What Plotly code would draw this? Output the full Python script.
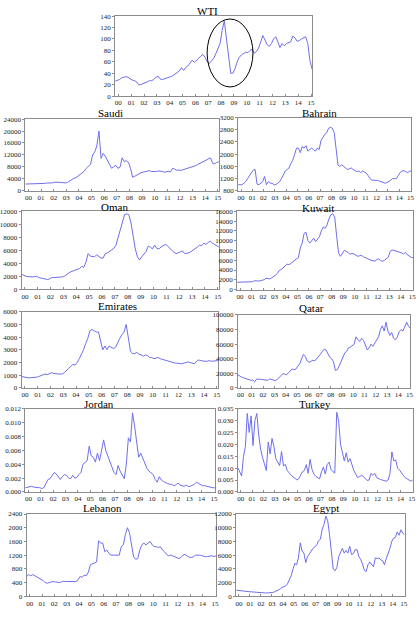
import plotly.graph_objects as go

# ---------------- data (~2-month steps) ----------------
t = [1999.75 + i / 6 for i in range(93)]
year_ticks = list(range(2000, 2016))
year_labels = [f"{y % 100:02d}" for y in year_ticks]

wti = [26, 27,
       29, 32, 33, 34, 33, 30,
       28, 27, 25, 20, 20, 22,
       23, 25, 27, 27, 29, 33,
       35, 30, 29, 30, 31, 32,
       34, 36, 39, 41, 44, 50,
       45, 50, 53, 58, 63, 59,
       62, 66, 70, 73, 68, 60,
       57, 61, 66, 74, 85, 92,
       115, 132, 100, 65, 40, 40,
       48, 60, 68, 72, 75, 77,
       76, 80, 82, 75, 78, 84,
       95, 106, 98, 90, 87, 92,
       100, 104, 95, 85, 92, 88,
       92, 93, 95, 105, 102, 96,
       97, 100, 102, 104, 92, 62,
       47]

saudi = [2200, 2200,
         2200, 2300, 2300, 2300, 2400, 2400,
         2400, 2400, 2500, 2500, 2600, 2600,
         2800, 2900, 2800, 2700, 2600, 2600,
         2700, 3200, 3900, 4100, 4300, 4800,
         5200, 6000, 6500, 7500, 8200, 8800,
         12000, 13000, 15000, 20000, 10800, 12500,
         11500, 10000, 8500, 7500, 8000, 8500,
         7500, 7800, 11000, 9800, 10000, 9500,
         7500, 4500, 4800, 5200, 5800, 6000,
         6200, 6300, 6500, 6700, 6400, 6300,
         6400, 6500, 6600, 6400, 6200, 6300,
         6500, 6300, 7500, 7200, 6800, 6900,
         6800, 7000, 7200, 7400, 7600, 8000,
         8200, 8400, 8800, 9200, 9600, 10000,
         10200, 10600, 11000, 9200, 9000, 9500,
         9700]

bahrain = [1000, 1000,
           1000, 1050, 1100, 1200, 1300, 1400,
           1480, 1500, 1020, 1000, 1050, 1100,
           1270, 1000, 1100, 1050, 1050, 1000,
           1000, 1050, 1100, 1200, 1350, 1450,
           1500, 1550, 1700, 1800, 2000, 2200,
           2200, 2050, 2250, 2200, 2280, 2100,
           2150, 2200, 2150, 2100, 2200, 2150,
           2450, 2550, 2650, 2700, 2850, 2880,
           2850, 2700, 2100, 1650, 1600, 1650,
           1600, 1550, 1500, 1520, 1550, 1500,
           1450, 1430, 1450, 1400, 1450, 1420,
           1380, 1300, 1200, 1150, 1150, 1150,
           1140, 1120, 1100, 1080, 1050, 1070,
           1100, 1150, 1200, 1200, 1200, 1300,
           1400, 1450, 1460, 1430, 1400, 1440,
           1450]

oman = [2300, 2100,
        2000, 1950, 1900, 1900, 1950, 2000,
        1800, 1700, 1650, 1600, 1500, 1600,
        1800, 1800, 1800, 1800, 1850, 1900,
        2000, 2300, 2500, 2700, 2800, 2900,
        3000, 3200, 3500, 3400, 4200, 5500,
        5100, 5000, 5000, 5300, 5100, 4800,
        4800, 5500, 5600, 5800, 6000, 6300,
        6800, 8000, 9000, 10500, 11500, 11600,
        11500, 10200, 8000, 6200, 5000, 4500,
        5000, 5400, 5800, 6600, 6500, 6200,
        6800, 6300, 6200, 6500, 6700, 6900,
        6700, 6300, 6000, 5700, 5500, 5600,
        5800, 5900, 5500, 5500, 5600, 5800,
        6000, 6300, 6500, 6800, 6700, 7100,
        6900, 7200, 7400, 7100, 6900, 6800,
        6500]

kuwait = [1500, 1500,
          1500, 1500, 1450, 1450, 1500, 1550,
          1600, 1800, 1700, 1750, 1800, 1900,
          2000, 2300, 2200, 2200, 2400, 2600,
          2900, 3300, 3900, 4100, 4400, 4800,
          5200, 5100, 5300, 5700, 6000, 6300,
          6500, 8500, 9500, 11500, 11700, 10000,
          9500, 10000, 10500, 9800, 10300, 10800,
          12000, 12800, 12500, 13200, 14500, 15300,
          15500, 14800, 11000, 7500, 6800, 7500,
          8000, 7800, 7600, 7200, 7400, 7300,
          7000, 6800, 6900, 7000, 6700, 6500,
          6300, 6200, 6000, 5900, 5800, 6100,
          6300, 5900, 5800, 6000, 6300, 6600,
          7800, 8100, 8000, 7900, 7800, 7700,
          7500, 7300, 7600, 7100, 6800, 6600,
          6500]

emirates = [900, 850,
            800, 800, 800, 800, 820, 850,
            900, 950, 1000, 1100, 1050, 1100,
            1200, 1150, 1100, 1100, 1100, 1100,
            1200, 1400, 1550, 1700, 1850, 1800,
            2000, 2300, 2600, 3000, 3500, 3900,
            4500, 4600, 4500, 4400, 4400, 3800,
            3000, 3300, 3000, 3300, 3200, 3100,
            3200, 3600, 3900, 4200, 4400, 5000,
            4000, 2900, 2700, 2700, 2800, 2650,
            2600, 2500, 2600, 2550, 2400, 2400,
            2300, 2350, 2400, 2300, 2250, 2200,
            2100, 2050, 2000, 2000, 1950, 1950,
            1900, 1900, 1950, 2000, 2050, 2000,
            1950, 1900, 2100, 2200, 2150, 2100,
            2100, 2100, 2150, 2100, 2100, 2150,
            2150]

qatar = [18000, 16000,
         15000, 14000, 13000, 12000, 11000, 10500,
         11000, 8500, 12000, 12500, 12000, 11500,
         11000, 10000, 10500, 12500, 11500, 11000,
         10000, 11500, 14000, 17000, 19500, 19000,
         18000, 21000, 24000, 26000, 25000, 26000,
         30000, 33000, 40000, 46000, 43000, 37000,
         35000, 36000, 38000, 37000, 40000, 42000,
         46000, 50000, 53000, 52000, 46000, 42000,
         40000, 36000, 24000, 25000, 30000, 36000,
         42000, 48000, 50000, 55000, 56000, 58000,
         60000, 70000, 66000, 64000, 68000, 65000,
         58000, 52000, 55000, 60000, 57000, 62000,
         65000, 70000, 80000, 85000, 78000, 90000,
         78000, 72000, 76000, 68000, 66000, 70000,
         77000, 80000, 78000, 84000, 90000, 84000,
         82000]

jordan = [0.0006, 0.0007,
          0.0008, 0.0008, 0.0007, 0.0007, 0.0007, 0.0006,
          0.0005, 0.0006, 0.0012, 0.0018, 0.0019, 0.0023,
          0.0028, 0.0026, 0.0022, 0.0018, 0.0022, 0.0025,
          0.0024, 0.0020, 0.0019, 0.0024, 0.0020, 0.0021,
          0.0025, 0.0028, 0.0040, 0.0042, 0.0045, 0.0066,
          0.0052, 0.0050, 0.0043, 0.0056, 0.0045, 0.0060,
          0.0075, 0.0060, 0.0052, 0.0045, 0.0035, 0.0028,
          0.0025, 0.0038, 0.0030, 0.0025, 0.0019, 0.0040,
          0.0078, 0.0072, 0.0114, 0.0095, 0.0072, 0.0050,
          0.0056, 0.0048, 0.0040, 0.0034, 0.0030, 0.0027,
          0.0025, 0.0018, 0.0014, 0.0022, 0.0017, 0.0015,
          0.0013, 0.0012, 0.0011, 0.0011, 0.0009, 0.0010,
          0.0013, 0.0010, 0.0009, 0.0008, 0.0010, 0.0008,
          0.0008, 0.0009, 0.0011, 0.0014, 0.0012, 0.0011,
          0.0009, 0.0009, 0.0008, 0.0007, 0.0007, 0.0006,
          0.0006]

turkey = [0.0102, 0.0085,
          0.0067, 0.0150, 0.0190, 0.0330, 0.0250, 0.0320,
          0.0195, 0.0300, 0.0330, 0.0240, 0.0180, 0.0145,
          0.0120, 0.0090, 0.0210, 0.0160, 0.0225, 0.0190,
          0.0140, 0.0125, 0.0110, 0.0170, 0.0110, 0.0115,
          0.0090, 0.0080, 0.0070, 0.0063, 0.0058, 0.0050,
          0.0055, 0.0070, 0.0085, 0.0090, 0.0115, 0.0078,
          0.0137, 0.0095, 0.0075, 0.0065, 0.0060, 0.0055,
          0.0085, 0.0105, 0.0075, 0.0115, 0.0125, 0.0095,
          0.0085, 0.0080, 0.0335, 0.0300, 0.0200, 0.0170,
          0.0130, 0.0165, 0.0125, 0.0140, 0.0110, 0.0090,
          0.0075, 0.0060, 0.0065, 0.0070, 0.0065, 0.0055,
          0.0048, 0.0050, 0.0078, 0.0070, 0.0078, 0.0060,
          0.0055, 0.0052, 0.0050, 0.0047, 0.0045, 0.0050,
          0.0078, 0.0168, 0.0130, 0.0135, 0.0100, 0.0092,
          0.0078, 0.0070, 0.0060, 0.0055, 0.0048, 0.0045,
          0.0050]

lebanon = [580, 630,
           600, 630, 600, 570, 520, 490,
           460, 400, 380, 400, 420, 430,
           420, 410, 400, 420, 440, 430,
           430, 440, 430, 420, 430, 480,
           580, 550, 620, 600, 700, 920,
           950, 960, 1000, 1620, 1550, 1550,
           1300, 1350, 1250, 1200, 1200, 1200,
           1180, 1200, 1450, 1500, 1800, 2000,
           1850, 1500, 1150, 1080, 1100, 1350,
           1500, 1550, 1500, 1550, 1600, 1500,
           1450, 1450, 1420, 1450, 1350, 1300,
           1220, 1180, 1200, 1180, 1150, 1120,
           1100, 1130, 1200, 1220, 1170, 1140,
           1130, 1150, 1200, 1210, 1200, 1190,
           1160, 1150, 1160, 1170, 1180, 1160,
           1180]

egypt = [900, 850,
         800, 750, 720, 700, 680, 660,
         650, 620, 600, 570, 550, 530,
         500, 500, 480, 490, 500, 530,
         550, 650, 750, 850, 1050, 1300,
         1400, 1500, 1800, 2400, 3000, 3900,
         4800, 4600, 5600, 7800, 6600, 6300,
         4900, 5800, 6200, 6500, 7000, 7200,
         7500, 8100, 8300, 9800, 10500, 11700,
         11000, 9000, 6500, 4000, 3700, 4200,
         5800, 6300, 7000, 6300, 6700, 6300,
         7300, 6100, 6200, 6800, 6800, 5800,
         5400, 4700, 3800, 3600, 4600, 5000,
         4600, 4300, 5600, 5500, 5600, 5300,
         5200, 4600, 5500, 6200, 7000, 8000,
         8500, 8600, 9400, 8900, 9700, 9200,
         9000]

# ---------------- layout (pixel boxes: left, right, top, bottom) ----------------
W, H = 420, 620
FONT = "Liberation Serif, Times New Roman, serif"
LINE = "rgb(110,110,238)"

panels = [
    ("WTI", wti, (112.3, 313, 12.3, 93.3), (0, 140), 20, "d", (206, 7)),
    ("Saudi", saudi, (20.7, 218, 116.7, 189), (0, 24000), 4000, "d", (108, 110)),
    ("Bahrain", bahrain, (237.7, 414.3, 115, 189.3), (800, 3200), 400, "d", (321, 110)),
    ("Oman", oman, (17, 218, 210, 289), (0, 12000), 2000, "d", (112, 206)),
    ("Kuwait", kuwait, (236.7, 416, 210, 289.3), (0, 16000), 2000, "d", (319, 206.5)),
    ("Emirates", emirates, (17, 217, 311.7, 389), (0, 6000), 1000, "d", (115, 305.5)),
    ("Qatar", qatar, (237.3, 413.3, 315, 389), (0, 100000), 20000, "d", (312, 308)),
    ("Jordan", jordan, (20.7, 214, 410, 494.3), (0, 0.012), 0.002, ".3f", (96, 405)),
    ("Turkey", turkey, (237.3, 415.7, 410, 494.3), (0, 0.035), 0.005, ".3f", (316, 405)),
    ("Lebanon", lebanon, (22, 215, 516.7, 600), (0, 2400), 400, "d", (99, 510.5)),
    ("Egypt", egypt, (235.7, 407.3, 516.7, 600), (0, 12000), 2000, "d", (327, 510.5)),
]

fig = go.Figure()
layout = dict(width=W, height=H, margin=dict(l=0, r=0, t=0, b=0),
              paper_bgcolor="white", plot_bgcolor="white", showlegend=False,
              font=dict(family=FONT, size=7, color="#222"))
annotations = []
XR = [1999.75, 2015.08]

for i, (name, vals, box, yr, dt, fmt, txy) in enumerate(panels):
    n = "" if i == 0 else str(i + 1)
    l, r, tp, bt = box
    fig.add_trace(go.Scatter(x=t, y=vals, mode="lines", xaxis="x" + n, yaxis="y" + n,
                             line=dict(color=LINE, width=1), hoverinfo="skip"))
    common = dict(showline=True, mirror=True, linecolor="#8c8c8c", linewidth=1,
                  showgrid=False, zeroline=False, ticklen=2,
                  tickcolor="#8c8c8c", tickfont=dict(family=FONT, size=7, color="#222"))
    layout["xaxis" + n] = dict(domain=[l / W, r / W], anchor="y" + n, range=XR,
                               ticks="inside", tickvals=year_ticks, ticktext=year_labels,
                               **common)
    layout["yaxis" + n] = dict(domain=[1 - bt / H, 1 - tp / H], anchor="x" + n,
                               ticks="outside", range=list(yr), dtick=dt, tick0=yr[0],
                               tickformat=fmt, **common)
    annotations.append(dict(text=name, x=txy[0] / W, y=1 - txy[1] / H, xref="paper",
                            yref="paper", xanchor="center", yanchor="middle",
                            showarrow=False, font=dict(family=FONT, size=11, color="black")))

layout["annotations"] = annotations
layout["shapes"] = [dict(type="circle", xref="x", yref="y", x0=2006.91, x1=2010.48,
                         y0=16, y1=135, line=dict(color="black", width=1))]
fig.update_layout(**layout)
fig.write_html("out.html")
